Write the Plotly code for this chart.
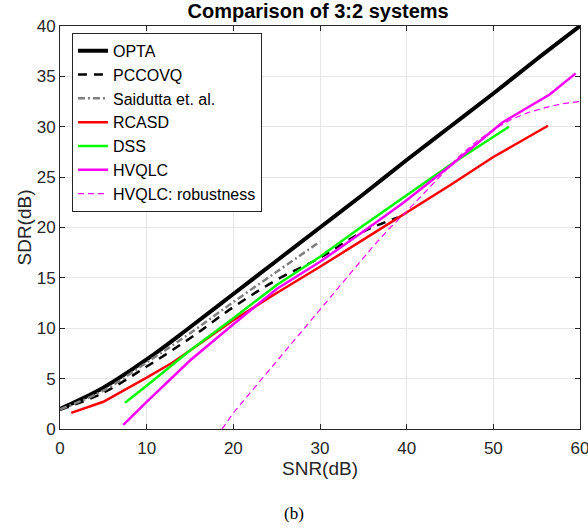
import plotly.graph_objects as go

# OPTA
opta_snr = [0, 5, 10, 15, 20, 25, 30, 35, 40, 45, 50, 55, 60]
opta_sdr = [2.0, 4.1, 6.9, 10.1, 13.4, 16.7, 20.0, 23.3, 26.7, 30.0, 33.3, 36.7, 40.0]
# PCCOVQ
pcc_snr = [0, 5, 10, 15, 20, 25, 30, 35, 39]
pcc_sdr = [1.9, 3.6, 6.2, 9.0, 12.1, 14.8, 17.0, 19.6, 21.0]
# Saidutta et. al.
sai_snr = [0, 5, 10, 15, 20, 25, 30]
sai_sdr = [1.95, 3.8, 6.6, 9.5, 12.6, 15.6, 18.6]
# RCASD
rca_snr = [1.3, 5, 10, 13, 15, 20, 25, 30, 35, 40, 45, 50, 56.3]
rca_sdr = [1.6, 2.7, 5.1, 6.6, 7.8, 10.8, 13.5, 16.1, 18.8, 21.5, 24.2, 27.0, 30.1]
# DSS
dss_snr = [7.5, 10, 15, 20, 25, 30, 35, 40, 45, 51.8]
dss_sdr = [2.6, 4.3, 7.8, 11.0, 14.3, 17.1, 20.2, 23.2, 26.2, 30.0]
# HVQLC
hvq_snr = [7.3, 10, 15, 20, 25, 30, 35, 39.7, 45, 51, 56.5, 59.5]
hvq_sdr = [0.4, 2.7, 6.8, 10.4, 13.9, 16.6, 19.6, 22.5, 26.1, 30.4, 33.2, 35.3]
# HVQLC: robustness
rob_snr = [18.7, 20, 22, 25, 28, 31, 34, 36, 38, 40, 42, 44, 46, 48, 50, 52, 54, 56, 58, 60]
rob_sdr = [0.0, 1.6, 3.65, 6.7, 9.8, 12.9, 15.95, 18.0, 19.9, 21.6, 23.4, 25.2, 27.0, 28.5, 29.7, 30.7, 31.4, 31.9, 32.3, 32.5]

FONT = "Liberation Sans, Arial, Helvetica"

fig = go.Figure()
fig.add_trace(go.Scatter(x=opta_snr, y=opta_sdr, mode="lines", name="OPTA",
                         line=dict(color="black", width=4, shape="spline")))
fig.add_trace(go.Scatter(x=pcc_snr, y=pcc_sdr, mode="lines", name="PCCOVQ",
                         line=dict(color="black", width=2.5, dash="9px,7px", shape="spline")))
fig.add_trace(go.Scatter(x=sai_snr, y=sai_sdr, mode="lines", name="Saidutta et. al.",
                         line=dict(color="#808080", width=2.5, dash="7px,3px,2px,3px", shape="spline")))
fig.add_trace(go.Scatter(x=rca_snr, y=rca_sdr, mode="lines", name="RCASD",
                         line=dict(color="#ff0000", width=2.5)))
fig.add_trace(go.Scatter(x=dss_snr, y=dss_sdr, mode="lines", name="DSS",
                         line=dict(color="#00ff00", width=2.5)))
fig.add_trace(go.Scatter(x=hvq_snr, y=hvq_sdr, mode="lines", name="HVQLC",
                         line=dict(color="#ff00ff", width=2.5)))
fig.add_trace(go.Scatter(x=rob_snr, y=rob_sdr, mode="lines", name="HVQLC: robustness",
                         line=dict(color="#ff00ff", width=1.2, dash="6px,4px")))

axis_common = dict(showgrid=True, gridcolor="#e6e6e6", gridwidth=1, showline=True,
                   linecolor="#262626", linewidth=1, mirror="ticks", ticks="inside",
                   ticklen=5, tickcolor="#262626", zeroline=False, automargin=False,
                   tickfont=dict(family=FONT, size=17, color="#262626"))

fig.update_layout(
    width=588, height=529,
    margin=dict(l=60, r=8, t=26, b=100),
    paper_bgcolor="white", plot_bgcolor="white",
    title=dict(text="<b>Comparison of 3:2 systems</b>", x=0.541, xanchor="center",
               y=0.979, yanchor="middle", automargin=False,
               font=dict(family=FONT, size=20, color="black")),
    xaxis=dict(range=[0, 60], dtick=10, ticklabeloverflow="allow", ticklabelstandoff=4,
               title=dict(text="SNR(dB)", standoff=4,
                          font=dict(family=FONT, size=19, color="#262626")),
               **axis_common),
    yaxis=dict(range=[0, 40], dtick=5,
               title=dict(text="SDR(dB)", standoff=0,
                          font=dict(family=FONT, size=19, color="#262626")),
               **axis_common),
    legend=dict(x=0.023, y=0.983, xanchor="left", yanchor="top",
                bgcolor="white", bordercolor="#262626", borderwidth=1,
                font=dict(family=FONT, size=16, color="black"),
                tracegroupgap=0),
    showlegend=True,
)
fig.add_annotation(text="(b)", xref="paper", yref="paper", x=0.45, y=-0.21,
                   showarrow=False, xanchor="center", yanchor="middle",
                   font=dict(family="Liberation Serif, Times New Roman", size=17, color="black"))
fig.write_html("out.html")
